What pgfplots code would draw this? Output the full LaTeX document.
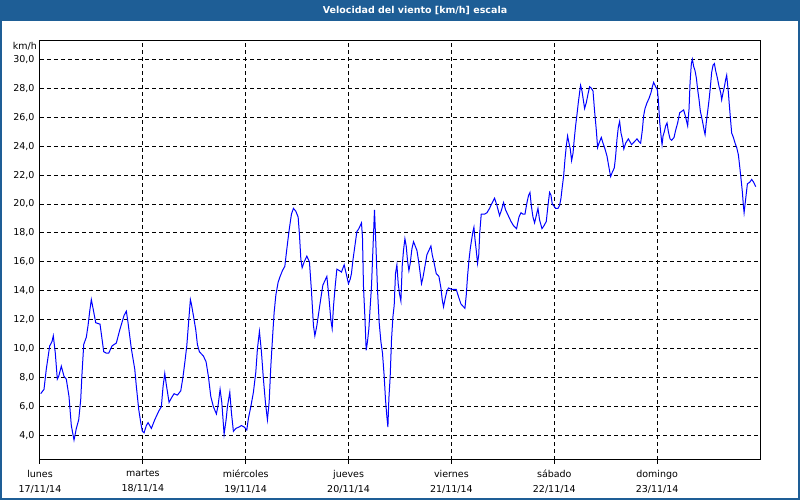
\documentclass[border=0pt]{standalone}
\usepackage{pgfplots}
\pgfplotsset{compat=1.18}
\usepackage{pgfplotstable}
\usepackage{fontspec}
\setmainfont{DejaVu Sans}
\definecolor{barblue}{RGB}{30,94,150}
\definecolor{lineblue}{RGB}{0,0,255}

% px = horizontal position (40 = 17/11 00:00, 102.8 px per day)
\pgfplotstableread{
px v
40.7 6.9
44 7.2
46.3 8.6
49.7 10.2
52 10.5
53.3 10.9
55.3 9.7
57.3 7.9
58.7 8.1
61.3 8.8
64 8.1
66.3 7.9
69 6.7
71.3 4.7
74 3.7
76.3 4.5
78.7 5.1
80.7 6.5
82 8.3
83.7 10.3
86.3 10.8
88 11.6
89.7 12.6
91.3 13.4
93 12.8
95.7 11.8
100 11.7
103.7 9.8
106.3 9.7
108.7 9.7
112 10.2
116.3 10.4
119.7 11.3
124 12.3
126.3 12.6
128 11.8
131.3 10.0
134.7 8.6
136.3 7.4
138.7 5.8
140.7 4.9
142.3 4.3
144 4.2
146.3 4.7
148 4.9
151.3 4.5
154.7 5.1
158.7 5.7
161.3 6.0
163 7.4
164.7 8.3
166.3 7.5
169 6.3
171.3 6.6
174 6.9
177.3 6.8
180.7 7.1
183 8.1
185 9.2
186.7 10.2
188.7 12.0
190.3 13.4
191.3 13.1
193.3 12.3
195.7 11.3
197.3 10.3
199.3 9.8
203.3 9.5
206 9.1
208.3 8.1
210.7 6.7
213.3 6.0
216.3 5.5
218 6.1
220 7.2
221.7 6.3
224 4.1
226 5.1
227.3 6.0
229.7 7.0
231.3 5.6
233.3 4.3
235.7 4.5
239 4.6
241.3 4.7
244 4.6
246.7 4.4
248.3 5.2
250.7 6.0
253.3 7.0
255.7 8.4
257.3 10.0
259.3 11.2
261.3 9.8
263.3 7.9
265.3 6.3
267.3 5.1
269 6.3
270.7 8.8
272.7 11.1
274 12.5
275.7 13.7
278 14.6
280 15.0
282.3 15.4
284.7 15.7
286.7 16.9
289 18.2
291.3 19.3
293.3 19.7
295.7 19.5
298 19.1
299.3 17.9
300.7 16.2
302 15.6
304 16.0
306.7 16.4
309.3 16.0
311.3 14.0
313.3 11.6
314.7 10.9
316.7 11.6
319 12.7
320.7 13.5
322.7 14.4
324.7 14.7
326.7 15.0
328.7 13.6
330.7 12.0
332 11.4
333.3 12.9
335 14.3
336.7 15.5
339.3 15.4
341.3 15.3
344 15.8
346 15.2
348.3 14.5
350 14.8
351.3 15.2
352.7 16.1
354.7 17.1
356.7 18.1
358.7 18.3
361.3 18.7
362.3 17.7
363.3 14.3
364.7 12.2
366 9.9
367.3 10.5
368.7 11.4
370 12.9
371.3 14.3
372.7 16.8
374.3 19.6
375.7 17.2
377.3 14.1
379 11.8
380.7 10.5
382.3 9.7
384 8.1
385.3 6.5
386.7 5.3
387.7 4.6
388.7 6.6
390 8.1
391.3 10.6
392.7 12.2
394 13.0
395.3 15.2
396.7 15.8
398 14.5
399.3 13.8
400.7 13.3
402 15.7
403.3 16.8
404.7 17.6
406 17.1
407.3 16.1
408.7 15.4
410 15.9
411.7 16.9
413.3 17.4
415 17.1
416.7 16.8
418.3 16.1
420 15.2
421.3 14.5
422.7 14.9
424.7 15.7
426.7 16.5
428.7 16.8
430.7 17.1
432 16.5
434 15.9
436 15.2
438.7 15.0
440.7 14.2
442 13.4
443.3 12.9
445 13.5
446.7 14.0
448.3 14.2
451.7 14.1
456 14.1
458.3 13.6
460.7 13.1
463.3 12.9
464.7 12.8
466 13.7
467.3 15.0
468.7 16.1
470 16.9
471.3 17.5
472.7 18.1
473.7 18.4
474.7 17.6
476 16.8
477.3 15.9
478.5 16.5
479.5 18.0
481 19.3
484.3 19.3
486.7 19.4
489.3 19.7
491.3 20.0
494.3 20.4
496.7 19.9
499.3 19.2
501.3 19.6
503.3 20.1
505.3 19.6
508 19.2
510.7 18.8
513.3 18.5
516.3 18.3
518.7 19.1
520.7 19.4
522.7 19.3
524.7 19.3
526.7 20.1
528.3 20.6
529.7 20.8
531 19.9
532.7 19.1
534.3 18.7
536 19.2
537.7 19.7
539.3 18.9
541.7 18.3
543.7 18.5
546 18.8
547.7 19.9
549.3 20.8
550.7 20.6
552 20.0
553.3 19.9
555.3 19.7
557.7 19.7
559.3 19.9
560.7 20.4
562 21.2
563.3 21.9
564.7 23.1
566 24.0
567.3 24.7
568.7 24.2
570 23.8
571.3 23.0
572.7 23.5
574 24.5
575.3 25.4
576.7 26.2
578 27.0
579.3 27.7
580.3 28.2
581.7 27.8
583 27.2
584.3 26.6
586 27.0
587.7 27.6
589.3 28.1
591 28.0
592.7 27.8
594.3 26.4
596 25.1
597.3 23.9
598.7 24.2
601 24.6
602.7 24.2
604.7 23.8
606.7 23.3
608.7 22.5
610.3 21.9
612 22.2
614 22.5
615.3 23.3
616.7 24.5
618 25.3
619.3 25.7
620.7 24.9
622 24.5
623.5 23.8
625.3 24.2
628 24.5
631.3 24.1
634 24.3
636.7 24.5
638.7 24.3
640.3 24.2
642 25.1
643.3 26.1
644.7 26.6
646.7 27.0
648.7 27.3
650.7 27.7
652 28.1
653.3 28.4
655.3 28.1
657 27.9
658 27.2
659.3 25.7
660.7 24.7
661.7 24.1
662.7 24.7
664 25.0
665.3 25.4
666.7 25.6
668 25.0
669.7 24.5
671.3 24.4
673.7 24.6
675.3 25.1
677.3 25.6
679.3 26.3
681.3 26.4
683.3 26.5
685.3 26.0
687.3 25.4
688.7 26.6
689.7 28.4
691 29.7
692 30.0
693.3 29.5
694.7 29.2
696 28.7
697.3 27.9
698.7 27.2
700 26.4
701.3 26.0
702.7 25.5
704 25.0
704.7 24.8
706 25.7
707.3 26.4
708.7 27.2
710 28.1
711.3 29.1
712.7 29.6
714 29.7
715.3 29.2
717 28.7
718.7 28.1
720.3 27.7
721.3 27.2
722.7 27.7
724 28.1
725.3 28.6
726.3 28.9
727 28.4
728 27.7
729 26.8
730.3 25.7
731.3 24.9
733 24.6
734.7 24.2
736.3 23.9
738 23.4
739.3 22.6
740.7 21.7
742 20.8
743 19.9
743.7 19.4
744.7 20.0
745.7 20.6
747 21.4
749.3 21.5
751.3 21.7
753.3 21.5
755.3 21.2
}\windtbl

\begin{document}
\begin{tikzpicture}[x=1pt,y=1pt]
\path[use as bounding box] (0,0) rectangle (800,500);
\fill[white] (0,0) rectangle (800,500);
\fill[barblue] (0,479) rectangle (800,500);
\draw[barblue, line width=2pt] (1,1) rectangle (799,499);
\node[white, font=\bfseries\fontsize{9.5}{11}\selectfont] at (415,489.5) {Velocidad del viento [km/h] escala};
\node[anchor=east, font=\fontsize{9.5}{11}\selectfont, inner sep=0pt] at (37,453.5) {km/h};
\begin{axis}[
  at={(40pt,40pt)}, anchor=south west,
  scale only axis, width=720pt, height=419pt,
  xmin=0, xmax=168, ymin=2.32, ymax=31.26,
  axis line style={black, line width=1pt},
  xtick={0,24,48,72,96,120,144},
  xticklabels={{lunes\\17/11/14},{martes\\18/11/14},{mi\'ercoles\\19/11/14},{jueves\\20/11/14},{viernes\\21/11/14},{s\'abado\\22/11/14},{domingo\\23/11/14}},
  ytick={4,6,...,30},
  tick pos=left,
  tick align=outside,
  major tick length=4pt,
  xtick style={black, line width=1pt},
  ytick style={draw=none},
  xmajorgrids, ymajorgrids,
  major grid style={black, line width=1pt, dash pattern=on 4pt off 3pt},
  tick label style={font=\fontsize{9.5}{15}\selectfont, text=black},
  xticklabel style={align=center, yshift=-2.5pt},
  yticklabel style={xshift=2pt},
  /pgf/number format/.cd, fixed, fixed zerofill, precision=1, use comma, assume math mode=true,
]
\addplot[lineblue, line width=1pt, no markers] table[x expr={(\thisrow{px}-40)*24/102.8}, y=v] {\windtbl};
\end{axis}
\end{tikzpicture}
\end{document}
